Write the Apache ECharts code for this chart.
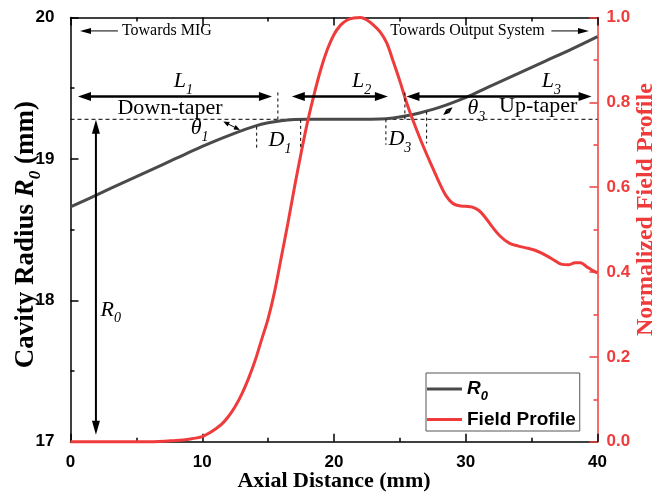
<!DOCTYPE html>
<html><head><meta charset="utf-8">
<script src="https://cdn.jsdelivr.net/npm/echarts@6/dist/echarts.min.js"></script>
<style>html,body{margin:0;padding:0;background:#fff}#c{width:657px;height:498px}</style>
</head><body><div id="c"></div>
<script>
// ---- data ----
const xTicks = [0, 10, 20, 30, 40];
const leftTicks = [17, 18, 19, 20];
const rightTicks = ['0.0', '0.2', '0.4', '0.6', '0.8', '1.0'];

const radiusX = [0, 2, 4, 6, 8, 10, 11, 12, 13, 14, 15, 16, 17, 18, 20, 22, 23.5, 24.5, 25.5, 26.5, 27.5, 28.5, 29.5, 30.5, 32, 34, 36, 38, 40];
const radiusY = [18.66, 18.746, 18.832, 18.917, 19.003, 19.088, 19.128, 19.165, 19.2, 19.232, 19.255, 19.27, 19.278, 19.28, 19.28, 19.28, 19.282, 19.29, 19.305, 19.325, 19.35, 19.38, 19.415, 19.455, 19.52, 19.605, 19.69, 19.775, 19.865];

const fieldX = [0, 6, 8, 9, 10, 10.5, 11, 11.5, 12, 12.5, 13, 13.5, 14, 14.5, 15, 15.5, 16, 16.5, 17, 17.5, 18, 18.5, 19, 19.5, 20, 20.5, 21, 21.5, 22, 22.5, 23, 23.5, 24, 24.5, 25, 25.5, 26, 26.5, 27, 27.5, 28, 28.5, 29, 29.5, 30, 30.5, 31, 31.5, 32, 32.6, 33.3, 34, 34.6, 35.2, 35.8, 36.5, 37.3, 37.8, 38.3, 38.7, 39.2, 39.6, 40];
const fieldY = [0, 0, 0.003, 0.006, 0.012, 0.02, 0.03, 0.042, 0.06, 0.083, 0.112, 0.148, 0.19, 0.24, 0.29, 0.355, 0.435, 0.515, 0.6, 0.68, 0.755, 0.82, 0.878, 0.925, 0.96, 0.982, 0.994, 0.999, 1.0, 0.994, 0.982, 0.966, 0.94, 0.896, 0.85, 0.8, 0.757, 0.717, 0.68, 0.645, 0.61, 0.58, 0.562, 0.556, 0.555, 0.553, 0.545, 0.528, 0.507, 0.485, 0.468, 0.461, 0.457, 0.452, 0.444, 0.432, 0.418, 0.417, 0.422, 0.422, 0.412, 0.404, 0.398];

const seriesNames = ['R0', 'Field Profile'];
const flatRadius = 19.28;

// ---- style ----
const RED = '#ef3b3b';
const GRAY = '#4a4a4a';
const SERIF = '"Liberation Serif", "Times New Roman", serif';
const SANS = '"Liberation Sans", Arial, sans-serif';

const chart = echarts.init(document.getElementById('c'), null, {renderer: 'canvas'});

function xAxisBase(pos, showLabel) {
  return {
    type: 'value', position: pos,
    min: xTicks[0], max: xTicks[xTicks.length - 1], interval: xTicks[1] - xTicks[0],
    axisLine: {show: true, onZero: false, lineStyle: {color: '#000', width: 1.5}},
    axisTick: {show: true, inside: true, length: 8, lineStyle: {color: '#000', width: 1.5}},
    minorTick: {show: true, splitNumber: 2, length: 4, lineStyle: {color: '#000', width: 1.5}},
    splitLine: {show: false},
    axisLabel: {show: showLabel, color: '#000', fontFamily: SANS, fontWeight: 'bold', fontSize: 17, margin: 12},
  };
}

const option = {
  animation: false,
  backgroundColor: '#fff',
  grid: {left: 70.5, right: 59.5, top: 17.5, bottom: 56.3, containLabel: false, outerBoundsMode: 'none'},
  xAxis: [
    Object.assign(xAxisBase('bottom', true), {
      name: 'Axial Distance (mm)', nameLocation: 'middle', nameGap: 29, nameMoveOverlap: false,
      nameTextStyle: {fontFamily: SERIF, fontWeight: 'bold', fontSize: 22, color: '#000'}
    }),
    xAxisBase('top', false)
  ],
  yAxis: [
    {
      type: 'value', position: 'left',
      min: leftTicks[0], max: leftTicks[leftTicks.length - 1], interval: leftTicks[1] - leftTicks[0],
      axisLine: {show: true, onZero: false, lineStyle: {color: '#000', width: 1.5}},
      axisTick: {show: true, inside: true, length: 8, lineStyle: {color: '#000', width: 1.5}},
      minorTick: {show: true, splitNumber: 2, length: 4, lineStyle: {color: '#000', width: 1.5}},
      splitLine: {show: false},
      axisLabel: {color: '#000', fontFamily: SANS, fontWeight: 'bold', fontSize: 17, margin: 16},
      name: '{b|Cavity Radius }{i|R}{s|0}{b| (mm)}', nameLocation: 'middle', nameGap: 31, nameRotate: 90, nameMoveOverlap: false,
      nameTextStyle: {
        padding: [0, 10, 0, 0],
        rich: {
          b: {fontFamily: SERIF, fontWeight: 'bold', fontSize: 27, color: '#000', verticalAlign: 'middle', lineHeight: 27},
          i: {fontFamily: SERIF, fontWeight: 'bold', fontStyle: 'italic', fontSize: 27, color: '#000', verticalAlign: 'middle', lineHeight: 27},
          s: {fontFamily: SERIF, fontWeight: 'bold', fontStyle: 'italic', fontSize: 17, color: '#000', verticalAlign: 'top', lineHeight: 17, padding: [15, 0, 0, 0]}
        }
      }
    },
    {
      type: 'value', position: 'right',
      min: 0, max: Number(rightTicks[rightTicks.length - 1]), interval: Number(rightTicks[1]) - Number(rightTicks[0]),
      axisLine: {show: true, onZero: false, lineStyle: {color: RED, width: 1.5}},
      axisTick: {show: true, inside: true, length: 8, lineStyle: {color: RED, width: 1.5}},
      minorTick: {show: true, splitNumber: 2, length: 4, lineStyle: {color: RED, width: 1.5}},
      splitLine: {show: false},
      axisLabel: {color: RED, fontFamily: SANS, fontWeight: 'bold', fontSize: 17, margin: 9,
        formatter: v => rightTicks[Math.round(v / (Number(rightTicks[1])))] },
      name: 'Normalized Field Profile', nameLocation: 'middle', nameGap: 36, nameRotate: 90, nameMoveOverlap: false,
      nameTextStyle: {fontFamily: SERIF, fontWeight: 'bold', fontSize: 24, color: RED, padding: [0, 0, 0, 40]}
    }
  ],
  legend: {
    show: true, orient: 'vertical', left: 426, top: 373,
    data: seriesNames, icon: 'rect', itemWidth: 35, itemHeight: 3, itemGap: 7,
    padding: [6, 4, 2, 1], borderColor: '#555', borderWidth: 1, itemStyle: {borderWidth: 0},
    formatter: n => n === 'R0' ? '{i|R}{s|0}' : n,
    textStyle: {
      fontFamily: SANS, fontWeight: 'bold', fontSize: 19, color: '#000', padding: [0, 0, 0, 0],
      rich: {
        i: {fontFamily: SANS, fontWeight: 'bold', fontStyle: 'italic', fontSize: 19, color: '#000', verticalAlign: 'middle', lineHeight: 20},
        s: {fontFamily: SANS, fontWeight: 'bold', fontStyle: 'italic', fontSize: 13, color: '#000', verticalAlign: 'top', lineHeight: 13, padding: [11, 0, 0, 0]}
      }
    }
  },
  series: [
    {
      name: seriesNames[0], type: 'line', xAxisIndex: 0, yAxisIndex: 0,
      data: radiusX.map((x, i) => [x, radiusY[i]]),
      showSymbol: false, symbol: 'none', smooth: 0.4, clip: false, z: 3,
      lineStyle: {color: GRAY, width: 3}, itemStyle: {color: GRAY}
    },
    {
      name: seriesNames[1], type: 'line', xAxisIndex: 0, yAxisIndex: 1,
      data: fieldX.map((x, i) => [x, fieldY[i]]),
      showSymbol: false, symbol: 'none', smooth: 0.35, clip: false, z: 4,
      lineStyle: {color: RED, width: 3}, itemStyle: {color: RED}
    }
  ]
};
chart.setOption(option);

// ---- annotations (placed in data coordinates) ----
function buildGraphics() {
  const g = [];
  const P = (x, y) => chart.convertToPixel({xAxisIndex: 0, yAxisIndex: 0}, [x, y]);
  function line(a, b, w, dash, z) {
    g.push({type: 'line', z: z == null ? 50 : z, shape: {x1: a[0], y1: a[1], x2: b[0], y2: b[1]},
      style: {stroke: '#000', lineWidth: w, lineDash: dash || null}});
  }
  function head(tip, from, len, wid) {
    const dx = tip[0] - from[0], dy = tip[1] - from[1], d = Math.hypot(dx, dy);
    const ux = dx / d, uy = dy / d;
    const bx = tip[0] - ux * len, by = tip[1] - uy * len;
    g.push({type: 'polygon', z: 50, shape: {points: [tip, [bx - uy * wid / 2, by + ux * wid / 2], [bx + uy * wid / 2, by - ux * wid / 2]]},
      style: {fill: '#000'}});
  }
  function arrow(a, b, w, len, wid, both) {
    const dx = b[0] - a[0], dy = b[1] - a[1], d = Math.hypot(dx, dy), ux = dx / d, uy = dy / d;
    const a2 = both ? [a[0] + ux * len * 0.7, a[1] + uy * len * 0.7] : a;
    const b2 = [b[0] - ux * len * 0.7, b[1] - uy * len * 0.7];
    line(a2, b2, w);
    head(b, a, len, wid);
    if (both) head(a, b, len, wid);
  }
  function label(p, main, sub, size, align, italic) {
    const r = {
      m: {fontFamily: SERIF, fontStyle: italic ? 'italic' : 'normal', fontSize: size, fill: '#000', verticalAlign: 'middle', lineHeight: size},
      s: {fontFamily: SERIF, fontStyle: 'italic', fontSize: Math.round(size * 0.62), fill: '#000', verticalAlign: 'top', lineHeight: Math.round(size * 0.62), padding: [Math.round(size * 0.58), 0, 0, 0]}
    };
    const txt = '{m|' + main + '}' + (sub ? '{s|' + sub + '}' : '');
    g.push({type: 'text', z: 60, x: p[0], y: p[1], style: {text: txt, rich: r, align: align || 'center', verticalAlign: 'middle', fill: '#000'}});
  }

  // reference dashed horizontal line at flat radius
  line(P(0, flatRadius), P(40, flatRadius), 1, [4, 3], 1);

  // direction hints
  arrow(P(3.6, 19.905), P(0.72, 19.905), 1, 11, 6, false);
  label(P(3.9, 19.905), 'Towards MIG', null, 16, 'left', false);
  label(P(36.0, 19.905), 'Towards Output System', null, 16, 'right', false);
  arrow(P(36.5, 19.905), P(39.35, 19.905), 1, 11, 6, false);

  // section lengths
  arrow(P(0.57, 19.442), P(15.29, 19.442), 2.5, 13, 9, true);
  arrow(P(16.8, 19.442), P(24.09, 19.442), 2.5, 13, 9, true);
  arrow(P(25.5, 19.442), P(39.55, 19.442), 2.5, 13, 9, true);
  label(P(8.56, 19.551), 'L', '1', 22, 'center', true);
  label(P(22.09, 19.551), 'L', '2', 22, 'center', true);
  label(P(36.5, 19.551), 'L', '3', 22, 'center', true);
  line(P(15.74, 19.47), P(15.74, 19.28), 1, [3, 3]);
  line(P(25.38, 19.47), P(25.38, 19.28), 1, [3, 3]);

  // tapers
  label(P(7.55, 19.36), 'Down-taper', null, 22, 'center', false);
  label(P(35.5, 19.375), 'Up-taper', null, 22, 'center', false);
  label(P(9.8, 19.216), 'θ', '1', 22, 'center', true);
  arrow(P(11.6, 19.264), P(12.86, 19.205), 1, 6, 5, true);
  label(P(30.8, 19.36), 'θ', '3', 22, 'center', true);
  arrow(P(28.29, 19.311), P(29.0, 19.365), 1, 6, 5, true);

  // transition lengths
  line(P(14.13, 19.228), P(14.13, 19.064), 1, [3, 3]);
  line(P(17.47, 19.276), P(17.47, 19.064), 1, [3, 3]);
  label(P(15.9, 19.134), 'D', '1', 22, 'center', true);
  line(P(23.94, 19.28), P(23.94, 19.10), 1, [3, 3]);
  line(P(27.03, 19.334), P(27.03, 19.11), 1, [3, 3]);
  label(P(25.0, 19.141), 'D', '3', 22, 'center', true);

  // radius arrow
  arrow(P(1.93, 19.276), P(1.93, 17.05), 2, 14, 8, true);
  label(P(3.06, 17.933), 'R', '0', 22, 'center', true);
  return g;
}
chart.setOption({graphic: buildGraphics()});
</script>
</body></html>
